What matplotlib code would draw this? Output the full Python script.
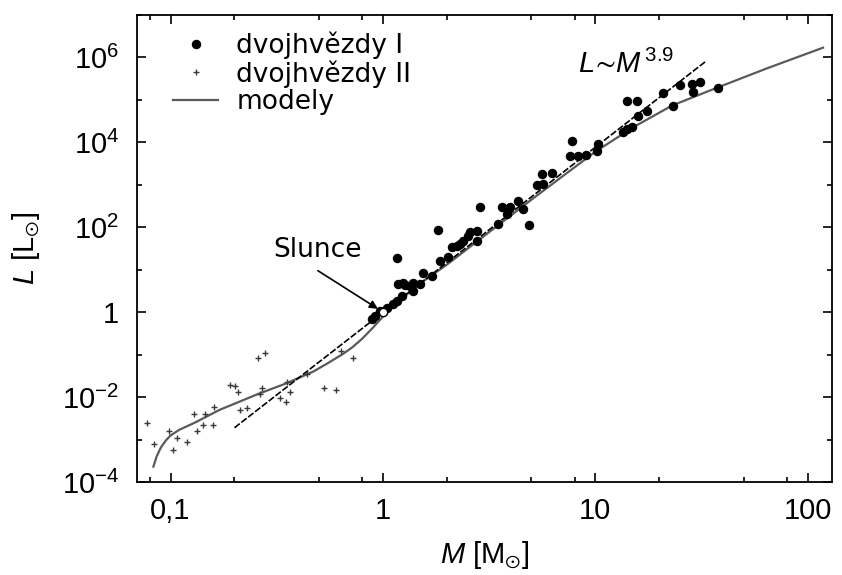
import matplotlib
matplotlib.use('Agg')
import matplotlib.pyplot as plt
from matplotlib.ticker import FixedLocator, FixedFormatter, NullFormatter

# model curve (M in solar masses, L in solar luminosities)
model_M = [0.083, 0.086, 0.09, 0.095, 0.1, 0.11, 0.13, 0.17, 0.26, 0.35, 0.47,
           0.55, 0.65, 0.72, 0.8, 0.9, 1.0, 1.2, 1.5, 2, 3, 5, 7, 10, 15, 23,
           38, 64, 118]
model_L = [2.3e-4, 4.0e-4, 6.5e-4, 9.5e-4, 1.25e-3, 1.7e-3, 2.5e-3, 5.0e-3, 0.012,
           0.021, 0.040, 0.063, 0.105, 0.151, 0.24, 0.44, 0.79, 1.9, 4.8, 13.2,
           63, 447, 1585, 6030, 22400, 74100, 2.0e5, 5.5e5, 1.7e6]

# L ~ M^3.9 line, end points
law_M = [0.2, 33]
law_L = [1.9e-3, 8.0e5]

# dvojhvezdy I (big dots)
bin1_M = [0.885, 0.917, 0.968, 1.041, 1.118, 1.160, 1.225, 1.160, 1.180, 1.246,
          1.269, 1.340, 1.389, 1.389, 1.493, 1.547, 1.695, 1.821, 1.854, 2.028,
          2.105, 2.222, 2.303, 2.387, 2.520, 2.566, 2.760, 2.760, 2.875, 3.488,
          3.619, 3.959, 3.82, 4.332, 4.57, 4.88, 5.29, 5.58, 6.22, 5.68,
          7.73, 7.59, 8.27, 9.02, 10.13, 10.31, 13.52, 14.03, 14.8, 14.03,
          15.63, 15.9, 17.42, 20.85, 23.23, 24.98, 28.36, 28.85, 31.03, 37.84]
bin1_L = [0.687, 0.822, 1.08, 1.29, 1.55, 1.86, 2.44, 19.2, 4.6, 5.0,
          4.43, 4.2, 3.2, 4.75, 4.6, 8.6, 7.2, 85.5, 16.3, 19.5,
          33.6, 36.8, 40.4, 48.3, 63.4, 75.9, 83.2, 48.3, 306, 120,
          306, 306, 206, 424, 270, 115, 1011, 1808, 1888, 1050,
          10740, 4886, 4886, 5155, 6410, 9230, 17300, 20800, 22700, 93100,
          93100, 42900, 56300, 143800, 73800, 230700, 239900, 152000, 261300, 192900]

# dvojhvezdy II (small crosses)
bin2_M = [0.0773, 0.0832, 0.0984, 0.1024, 0.1076, 0.119, 0.129, 0.133, 0.1426,
          0.146, 0.159, 0.1595, 0.190, 0.2005, 0.2085, 0.2123, 0.230, 0.259,
          0.2785, 0.263, 0.270, 0.327, 0.349, 0.352, 0.367, 0.4375, 0.527,
          0.598, 0.634, 0.723]
bin2_L = [2.42e-3, 7.7e-4, 1.55e-3, 5.6e-4, 1.07e-3, 8.9e-4, 3.9e-3, 1.55e-3, 2.24e-3,
          3.9e-3, 2.2e-3, 6.0e-3, 0.0194, 0.0187, 0.0134, 4.9e-3, 5.5e-3, 0.0855,
          0.110, 0.0121, 0.0168, 9.7e-3, 7.8e-3, 0.0232, 0.0135, 0.0347, 0.016,
          0.0146, 0.123, 0.0855]

sun_M = [1.0]
sun_L = [1.0]

x_ticks = [0.1, 1, 10, 100]
x_labels = ['0,1', '1', '10', '100']
x_minor = [0.08, 0.2, 0.5, 0.8, 2, 5, 8, 20, 50, 80]
y_ticks = [1e-4, 1e-2, 1, 1e2, 1e4, 1e6]
y_labels = ['$10^{-4}$', '$10^{-2}$', '1', '$10^{2}$', '$10^{4}$', '$10^{6}$']
y_minor = [1e-3, 1e-1, 1e1, 1e3, 1e5, 1e7]

plt.rcParams['font.family'] = ['Liberation Sans', 'DejaVu Sans']
plt.rcParams['mathtext.fontset'] = 'custom'
plt.rcParams['mathtext.rm'] = 'Liberation Sans'
plt.rcParams['mathtext.it'] = 'Liberation Sans:italic'
plt.rcParams['mathtext.fallback'] = 'stixsans'

fig = plt.figure(figsize=(8.42, 5.75), dpi=100)
ax = fig.add_axes([0.1627, 0.1617, 0.8254, 0.8122])
ax.set_xscale('log')
ax.set_yscale('log')

model_line, = ax.plot(model_M, model_L, color='#5a5a5a', lw=1.6, label='modely')
ax.plot(law_M, law_L, color='black', lw=1.2, linestyle=(0, (4, 1.2)))
b2, = ax.plot(bin2_M, bin2_L, linestyle='none', marker='+', ms=4, mew=1.0,
              color='#3a3a3a', label='dvojhvězdy II')
b1, = ax.plot(bin1_M, bin1_L, linestyle='none', marker='o', ms=5.8,
              color='black', label='dvojhvězdy I')
ax.plot(sun_M, sun_L, linestyle='none', marker='o', ms=6, mfc='white',
        mec='black', mew=1.0)

ax.set_xlim(0.0695, 130)
ax.set_ylim(1e-4, 1e7)

ax.xaxis.set_major_locator(FixedLocator(x_ticks))
ax.xaxis.set_major_formatter(FixedFormatter(x_labels))
ax.xaxis.set_minor_locator(FixedLocator(x_minor))
ax.xaxis.set_minor_formatter(NullFormatter())
ax.yaxis.set_major_locator(FixedLocator(y_ticks))
ax.yaxis.set_major_formatter(FixedFormatter(y_labels))
ax.yaxis.set_minor_locator(FixedLocator(y_minor))
ax.yaxis.set_minor_formatter(NullFormatter())

ax.tick_params(which='both', direction='in', top=True, right=True, width=1.2,
               labelsize=21)
ax.tick_params(which='major', length=6.5)
ax.tick_params(which='minor', length=3.5)
ax.tick_params(axis='y', pad=13)
ax.tick_params(axis='x', pad=11)
for s in ax.spines.values():
    s.set_linewidth(1.3)

ax.set_xlabel(r'$M$ [M$_{\odot}$]', fontsize=21, labelpad=10)
ax.set_ylabel(r'$L$ [L$_{\odot}$]', fontsize=21, labelpad=14)

ax.text(8.27, 4.4e5, r'$L\!\sim\!M^{\,3.9}$', fontsize=21, ha='left', va='baseline')
ax.text(0.494, 29.7, 'Slunce', fontsize=19, family='DejaVu Sans',
        ha='center', va='center')
ax.annotate('', xy=(0.947, 1.2), xytext=(0.494, 9.5),
            arrowprops=dict(arrowstyle='-|>', color='black', lw=1.2,
                            mutation_scale=12, shrinkA=0, shrinkB=0))

ax.legend(handles=[b1, b2, model_line], loc='upper left',
          bbox_to_anchor=(0.052, 0.965), frameon=False, borderpad=0,
          borderaxespad=0, handlelength=1.7, handletextpad=0.7,
          labelspacing=0.05, prop=dict(family='DejaVu Sans', size=19))

fig.savefig('out.png', dpi=100)
